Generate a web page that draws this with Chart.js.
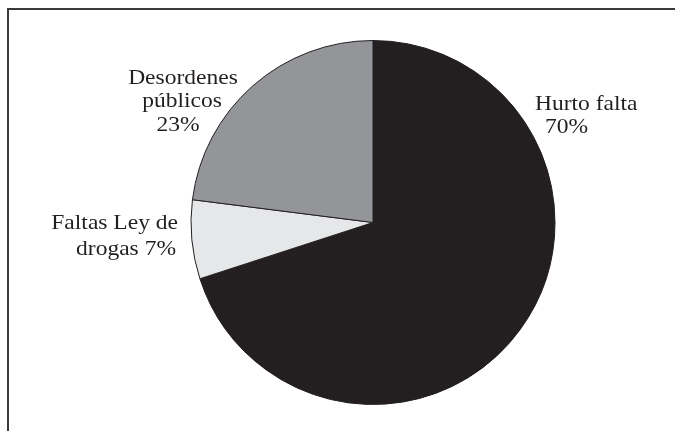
<!DOCTYPE html>
<html>
<head>
<meta charset="utf-8">
<script src="https://cdn.jsdelivr.net/npm/chart.js@4"></script>
<style>
  html, body { margin: 0; padding: 0; background: #fff; }
  #wrap { position: relative; width: 675px; height: 431px; overflow: hidden; }
  #frame {
    position: absolute; left: 7px; top: 8px; width: 700px; height: 460px;
    border-left: 2px solid #3a3a3a; border-top: 2px solid #3a3a3a;
  }
  canvas { position: absolute; left: 0; top: 0; }
</style>
</head>
<body>
<div id="wrap">
  <div id="frame"></div>
  <canvas id="pieChart" width="675" height="431"></canvas>
</div>
<script>
const categories = ['Hurto falta', 'Faltas Ley de drogas', 'Desordenes públicos'];
const shares = [70, 7, 23];
const sliceColors = ['#231f20', '#e6e7e8', '#939598'];

// label text lines per slice; '{v}' is replaced by the slice value
const labelLines = [
  ['Hurto falta', '{v}%'],
  ['Faltas Ley de', 'drogas {v}%'],
  ['Desordenes', 'públicos', '{v}%']
];

// where each label line sits on the canvas
const labelLayout = [
  [{ x: 535, y: 110, align: 'left' }, { x: 545, y: 133, align: 'left' }],
  [{ x: 178, y: 229, align: 'right' }, { x: 176, y: 255, align: 'right' }],
  [{ x: 183, y: 84, align: 'center' }, { x: 182, y: 107, align: 'center' }, { x: 178, y: 131, align: 'center' }]
];

const sliceLabels = {
  id: 'sliceLabels',
  afterDraw(chart) {
    const ctx = chart.ctx;
    const values = chart.data.datasets[0].data;
    ctx.fillStyle = '#231f20';
    ctx.font = '21px "Liberation Serif", serif';
    ctx.textBaseline = 'alphabetic';
    labelLines.forEach((lines, i) => {
      lines.forEach((line, j) => {
        const pos = labelLayout[i][j];
        ctx.save();
        // widen the serif a bit so it sets like a book face
        ctx.translate(pos.x, pos.y);
        ctx.scale(1.12, 1);
        ctx.textAlign = pos.align;
        ctx.fillText(line.replace('{v}', values[i]), 0, 0);
        ctx.restore();
      });
    });
  }
};

new Chart(document.getElementById('pieChart').getContext('2d'), {
  type: 'pie',
  data: {
    labels: categories,
    datasets: [{
      data: shares,
      backgroundColor: sliceColors,
      borderColor: '#231f20',
      borderWidth: 1
    }]
  },
  options: {
    responsive: false,
    animation: false,
    layout: {
      padding: { top: 40, bottom: 26, left: 100, right: 29 }
    },
    plugins: {
      legend: { display: false },
      tooltip: { enabled: false }
    }
  },
  plugins: [sliceLabels]
});
</script>
</body>
</html>
